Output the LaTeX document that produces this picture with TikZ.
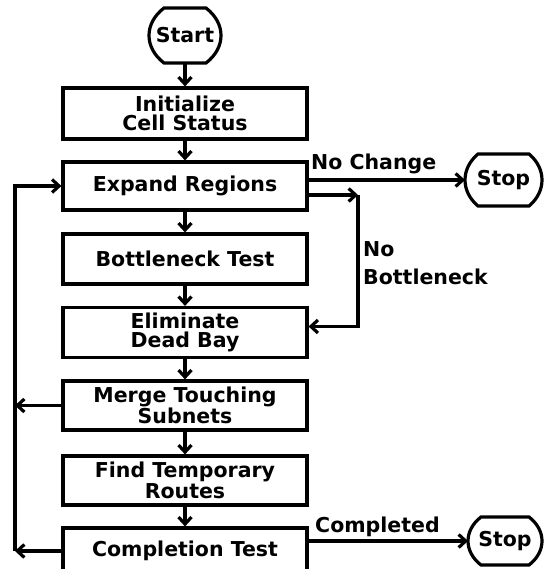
\documentclass[tikz,border=0pt]{standalone}
\usepackage{fontspec}
\setmainfont{DejaVu Sans}
\newfontfamily\lblfam{DejaVu Sans}
\usetikzlibrary{arrows.meta,calc}
\newcommand\lblfont{\lblfam\bfseries\fontsize{20.5}{19}\selectfont}
\tikzset{
  line/.style={line width=3.2pt},
  box/.style={draw, line width=3.2pt, minimum width=244pt, inner sep=0pt, align=center, font=\lblfont},
  term/.style={draw=none, inner sep=0pt, outer sep=0pt, font=\lblfont},
  lbl/.style={inner sep=0pt, font=\lblfont, anchor=base west},
  arr/.style={line width=3.2pt, -{Straight Barb[length=7pt,width=13pt]}},
}
\newcommand\termline[2]{%
  \draw[line] let \p1=(#1.north west), \p2=(#1.south east), \n1={(\y1-\y2)*0.28} in
  (\x1+#2,\y1) -- (\x2-#2,\y1)
  .. controls (\x2+#2/3,\y1-\n1*1pt) and (\x2+#2/3,\y2+\n1*1pt) .. (\x2-#2,\y2)
  -- (\x1+#2,\y2)
  .. controls (\x1-#2/3,\y2+\n1*1pt) and (\x1-#2/3,\y1-\n1*1pt) .. cycle;}
\begin{document}
\begin{tikzpicture}[x=1pt,y=-1pt]
\useasboundingbox (0,0) rectangle (545,569);
\clip (0,0) rectangle (545,569);
% terminals
\node[term, minimum width=72pt, minimum height=55pt] (start) at (185,35.5) {Start};
\node[term, minimum width=77pt, minimum height=52pt] (stop1) at (503.5,180) {Stop};
\node[term, minimum width=74pt, minimum height=48pt] (stop2) at (505,541) {Stop};
\termline{start}{15pt}
\termline{stop1}{13pt}
\termline{stop2}{13pt}
% process boxes
\node[box, minimum height=51pt] (init) at (185,113.5) {Initialize\\Cell Status};
\node[box, minimum height=48pt] (expand) at (185,186) {Expand Regions};
\node[box, minimum height=50pt] (bottle) at (185,259) {Bottleneck Test};
\node[box, minimum height=50pt] (elim) at (185,332.5) {Eliminate\\Dead Bay};
\node[box, minimum height=49pt] (merge) at (185,405.5) {Merge Touching\\Subnets};
\node[box, minimum height=49pt] (find) at (185,480.5) {Find Temporary\\Routes};
\node[box, minimum height=46pt] (compl) at (185,551) {Completion Test};
% main flow
\draw[arr] (start) -- (init);
\draw[arr] (init) -- (expand);
\draw[arr] (expand) -- (bottle);
\draw[arr] (bottle) -- (elim);
\draw[arr] (elim) -- (merge);
\draw[arr] (merge) -- (find);
\draw[arr] (find) -- (compl);
% exits
\draw[arr] ([yshift=6pt]expand.east) -- (stop1.west);
\node[lbl] (nochange) at (311,170) {No Change};
\draw[arr] ([yshift=10pt]compl.east) -- (stop2.west);
\node[lbl] (completed) at (315,532) {Completed};
% no bottleneck bypass
\coordinate (nbc) at (358,195);
\coordinate (eel) at ([yshift=6pt]elim.east);
\draw[arr] ([yshift=-9pt]expand.east) -- (nbc);
\draw[arr] (nbc) -- (nbc |- eel) -- (eel);
\node[lbl] (nolbl) at (363,256) {No};
\node[lbl] (bnlbl) at (363,284) {Bottleneck};
% feedback loop
\coordinate (fbt) at (15,186);
\draw[arr] (merge.west) -- (merge.west -| fbt);
\draw[arr] (compl.west) -- (compl.west -| fbt);
\draw[arr] (compl.west -| fbt) -- (fbt) -- (expand.west);
\end{tikzpicture}
\end{document}
